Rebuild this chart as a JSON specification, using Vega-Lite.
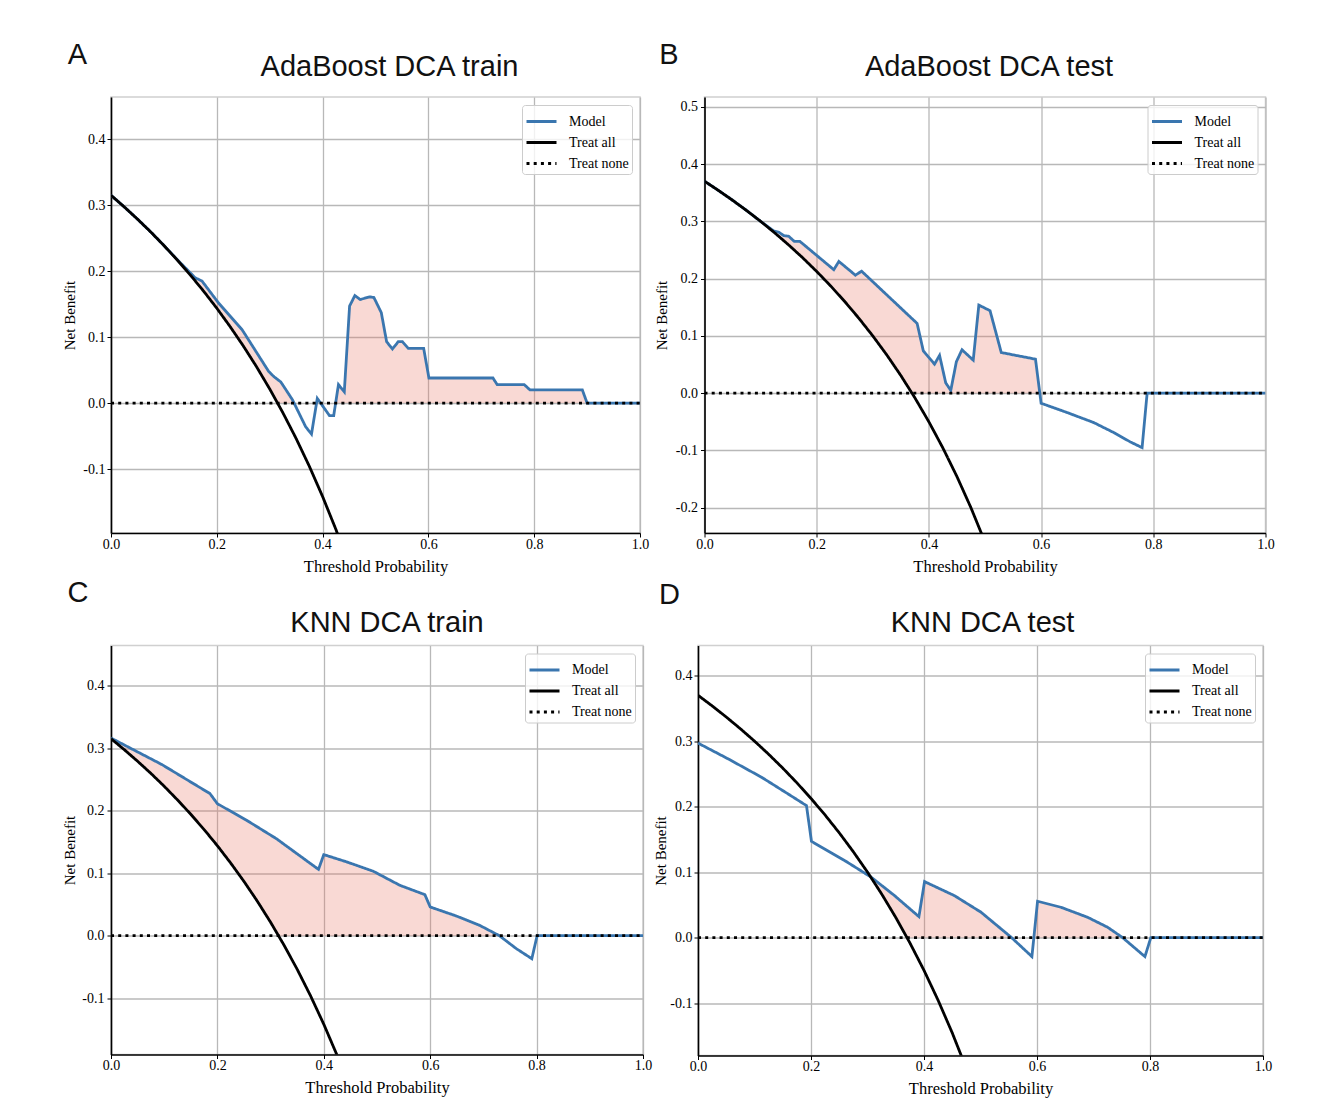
{
  "$schema": "https://vega.github.io/schema/vega-lite/v6.json",
  "background": "white",
  "padding": {"left": 62, "top": 41, "right": 0, "bottom": 0},
  "datasets": {
    "curves": [
      {"panel":"A","series":"Model","x":0,"y":0.315},
      {"panel":"A","series":"Model","x":0.025,"y":0.2974},
      {"panel":"A","series":"Model","x":0.05,"y":0.2789},
      {"panel":"A","series":"Model","x":0.075,"y":0.2595},
      {"panel":"A","series":"Model","x":0.1,"y":0.2389},
      {"panel":"A","series":"Model","x":0.127,"y":0.216},
      {"panel":"A","series":"Model","x":0.159,"y":0.19},
      {"panel":"A","series":"Model","x":0.172,"y":0.185},
      {"panel":"A","series":"Model","x":0.203,"y":0.152},
      {"panel":"A","series":"Model","x":0.248,"y":0.111},
      {"panel":"A","series":"Model","x":0.298,"y":0.048},
      {"panel":"A","series":"Model","x":0.308,"y":0.04},
      {"panel":"A","series":"Model","x":0.321,"y":0.032},
      {"panel":"A","series":"Model","x":0.343,"y":0.005},
      {"panel":"A","series":"Model","x":0.368,"y":-0.036},
      {"panel":"A","series":"Model","x":0.379,"y":-0.047},
      {"panel":"A","series":"Model","x":0.39,"y":0.007},
      {"panel":"A","series":"Model","x":0.413,"y":-0.019},
      {"panel":"A","series":"Model","x":0.421,"y":-0.019},
      {"panel":"A","series":"Model","x":0.43,"y":0.028},
      {"panel":"A","series":"Model","x":0.441,"y":0.017},
      {"panel":"A","series":"Model","x":0.451,"y":0.147},
      {"panel":"A","series":"Model","x":0.461,"y":0.163},
      {"panel":"A","series":"Model","x":0.471,"y":0.157},
      {"panel":"A","series":"Model","x":0.489,"y":0.161},
      {"panel":"A","series":"Model","x":0.497,"y":0.16},
      {"panel":"A","series":"Model","x":0.511,"y":0.137},
      {"panel":"A","series":"Model","x":0.521,"y":0.093},
      {"panel":"A","series":"Model","x":0.532,"y":0.082},
      {"panel":"A","series":"Model","x":0.543,"y":0.093},
      {"panel":"A","series":"Model","x":0.551,"y":0.093},
      {"panel":"A","series":"Model","x":0.562,"y":0.083},
      {"panel":"A","series":"Model","x":0.591,"y":0.083},
      {"panel":"A","series":"Model","x":0.601,"y":0.038},
      {"panel":"A","series":"Model","x":0.722,"y":0.038},
      {"panel":"A","series":"Model","x":0.73,"y":0.028},
      {"panel":"A","series":"Model","x":0.781,"y":0.028},
      {"panel":"A","series":"Model","x":0.792,"y":0.02},
      {"panel":"A","series":"Model","x":0.891,"y":0.02},
      {"panel":"A","series":"Model","x":0.9,"y":0},
      {"panel":"A","series":"Model","x":1,"y":0},
      {"panel":"A","series":"Treat all","x":0,"y":0.315},
      {"panel":"A","series":"Treat all","x":0.025,"y":0.2974},
      {"panel":"A","series":"Treat all","x":0.05,"y":0.2789},
      {"panel":"A","series":"Treat all","x":0.075,"y":0.2595},
      {"panel":"A","series":"Treat all","x":0.1,"y":0.2389},
      {"panel":"A","series":"Treat all","x":0.125,"y":0.2171},
      {"panel":"A","series":"Treat all","x":0.15,"y":0.1941},
      {"panel":"A","series":"Treat all","x":0.175,"y":0.1697},
      {"panel":"A","series":"Treat all","x":0.2,"y":0.1438},
      {"panel":"A","series":"Treat all","x":0.225,"y":0.1161},
      {"panel":"A","series":"Treat all","x":0.25,"y":0.0867},
      {"panel":"A","series":"Treat all","x":0.275,"y":0.0552},
      {"panel":"A","series":"Treat all","x":0.3,"y":0.0214},
      {"panel":"A","series":"Treat all","x":0.325,"y":-0.0148},
      {"panel":"A","series":"Treat all","x":0.35,"y":-0.0538},
      {"panel":"A","series":"Treat all","x":0.375,"y":-0.096},
      {"panel":"A","series":"Treat all","x":0.4,"y":-0.1417},
      {"panel":"A","series":"Treat all","x":0.425,"y":-0.1913},
      {"panel":"A","series":"Treat all","x":0.45,"y":-0.2455},
      {"panel":"A","series":"Treat none","x":0,"y":0},
      {"panel":"A","series":"Treat none","x":1,"y":0},

      {"panel":"B","series":"Model","x":0,"y":0.37},
      {"panel":"B","series":"Model","x":0.025,"y":0.3538},
      {"panel":"B","series":"Model","x":0.05,"y":0.3368},
      {"panel":"B","series":"Model","x":0.075,"y":0.3189},
      {"panel":"B","series":"Model","x":0.1,"y":0.3},
      {"panel":"B","series":"Model","x":0.1236,"y":0.283},
      {"panel":"B","series":"Model","x":0.1325,"y":0.281},
      {"panel":"B","series":"Model","x":0.1414,"y":0.275},
      {"panel":"B","series":"Model","x":0.15,"y":0.274},
      {"panel":"B","series":"Model","x":0.16,"y":0.265},
      {"panel":"B","series":"Model","x":0.17,"y":0.265},
      {"panel":"B","series":"Model","x":0.2305,"y":0.2156},
      {"panel":"B","series":"Model","x":0.2395,"y":0.23},
      {"panel":"B","series":"Model","x":0.269,"y":0.206},
      {"panel":"B","series":"Model","x":0.28,"y":0.213},
      {"panel":"B","series":"Model","x":0.379,"y":0.1218},
      {"panel":"B","series":"Model","x":0.39,"y":0.074},
      {"panel":"B","series":"Model","x":0.41,"y":0.0507},
      {"panel":"B","series":"Model","x":0.419,"y":0.066},
      {"panel":"B","series":"Model","x":0.43,"y":0.018},
      {"panel":"B","series":"Model","x":0.439,"y":0.005},
      {"panel":"B","series":"Model","x":0.449,"y":0.055},
      {"panel":"B","series":"Model","x":0.459,"y":0.0758},
      {"panel":"B","series":"Model","x":0.479,"y":0.0577},
      {"panel":"B","series":"Model","x":0.489,"y":0.1538},
      {"panel":"B","series":"Model","x":0.509,"y":0.144},
      {"panel":"B","series":"Model","x":0.529,"y":0.071},
      {"panel":"B","series":"Model","x":0.59,"y":0.0594},
      {"panel":"B","series":"Model","x":0.6,"y":-0.0175},
      {"panel":"B","series":"Model","x":0.6465,"y":-0.0338},
      {"panel":"B","series":"Model","x":0.694,"y":-0.0513},
      {"panel":"B","series":"Model","x":0.73,"y":-0.069},
      {"panel":"B","series":"Model","x":0.759,"y":-0.085},
      {"panel":"B","series":"Model","x":0.78,"y":-0.095},
      {"panel":"B","series":"Model","x":0.789,"y":0},
      {"panel":"B","series":"Model","x":1,"y":0},
      {"panel":"B","series":"Treat all","x":0,"y":0.37},
      {"panel":"B","series":"Treat all","x":0.025,"y":0.3538},
      {"panel":"B","series":"Treat all","x":0.05,"y":0.3368},
      {"panel":"B","series":"Treat all","x":0.075,"y":0.3189},
      {"panel":"B","series":"Treat all","x":0.1,"y":0.3},
      {"panel":"B","series":"Treat all","x":0.125,"y":0.28},
      {"panel":"B","series":"Treat all","x":0.15,"y":0.2588},
      {"panel":"B","series":"Treat all","x":0.175,"y":0.2364},
      {"panel":"B","series":"Treat all","x":0.2,"y":0.2125},
      {"panel":"B","series":"Treat all","x":0.225,"y":0.1871},
      {"panel":"B","series":"Treat all","x":0.25,"y":0.16},
      {"panel":"B","series":"Treat all","x":0.275,"y":0.131},
      {"panel":"B","series":"Treat all","x":0.3,"y":0.1},
      {"panel":"B","series":"Treat all","x":0.325,"y":0.0667},
      {"panel":"B","series":"Treat all","x":0.35,"y":0.0308},
      {"panel":"B","series":"Treat all","x":0.375,"y":-0.008},
      {"panel":"B","series":"Treat all","x":0.4,"y":-0.05},
      {"panel":"B","series":"Treat all","x":0.425,"y":-0.0957},
      {"panel":"B","series":"Treat all","x":0.45,"y":-0.1455},
      {"panel":"B","series":"Treat all","x":0.475,"y":-0.2},
      {"panel":"B","series":"Treat all","x":0.5,"y":-0.26},
      {"panel":"B","series":"Treat none","x":0,"y":0},
      {"panel":"B","series":"Treat none","x":1,"y":0},

      {"panel":"C","series":"Model","x":0,"y":0.316},
      {"panel":"C","series":"Model","x":0.0957,"y":0.2736},
      {"panel":"C","series":"Model","x":0.186,"y":0.2272},
      {"panel":"C","series":"Model","x":0.2,"y":0.211},
      {"panel":"C","series":"Model","x":0.255,"y":0.1845},
      {"panel":"C","series":"Model","x":0.311,"y":0.155},
      {"panel":"C","series":"Model","x":0.39,"y":0.106},
      {"panel":"C","series":"Model","x":0.4,"y":0.1296},
      {"panel":"C","series":"Model","x":0.443,"y":0.118},
      {"panel":"C","series":"Model","x":0.493,"y":0.103},
      {"panel":"C","series":"Model","x":0.543,"y":0.0805},
      {"panel":"C","series":"Model","x":0.59,"y":0.0656},
      {"panel":"C","series":"Model","x":0.6,"y":0.0459},
      {"panel":"C","series":"Model","x":0.649,"y":0.0315},
      {"panel":"C","series":"Model","x":0.693,"y":0.0165},
      {"panel":"C","series":"Model","x":0.73,"y":0},
      {"panel":"C","series":"Model","x":0.762,"y":-0.0208},
      {"panel":"C","series":"Model","x":0.791,"y":-0.0368},
      {"panel":"C","series":"Model","x":0.801,"y":0},
      {"panel":"C","series":"Model","x":1,"y":0},
      {"panel":"C","series":"Treat all","x":0,"y":0.315},
      {"panel":"C","series":"Treat all","x":0.025,"y":0.2974},
      {"panel":"C","series":"Treat all","x":0.05,"y":0.2789},
      {"panel":"C","series":"Treat all","x":0.075,"y":0.2595},
      {"panel":"C","series":"Treat all","x":0.1,"y":0.2389},
      {"panel":"C","series":"Treat all","x":0.125,"y":0.2171},
      {"panel":"C","series":"Treat all","x":0.15,"y":0.1941},
      {"panel":"C","series":"Treat all","x":0.175,"y":0.1697},
      {"panel":"C","series":"Treat all","x":0.2,"y":0.1438},
      {"panel":"C","series":"Treat all","x":0.225,"y":0.1161},
      {"panel":"C","series":"Treat all","x":0.25,"y":0.0867},
      {"panel":"C","series":"Treat all","x":0.275,"y":0.0552},
      {"panel":"C","series":"Treat all","x":0.3,"y":0.0214},
      {"panel":"C","series":"Treat all","x":0.325,"y":-0.0148},
      {"panel":"C","series":"Treat all","x":0.35,"y":-0.0538},
      {"panel":"C","series":"Treat all","x":0.375,"y":-0.096},
      {"panel":"C","series":"Treat all","x":0.4,"y":-0.1417},
      {"panel":"C","series":"Treat all","x":0.425,"y":-0.1913},
      {"panel":"C","series":"Treat all","x":0.45,"y":-0.2455},
      {"panel":"C","series":"Treat none","x":0,"y":0},
      {"panel":"C","series":"Treat none","x":1,"y":0},

      {"panel":"D","series":"Model","x":0,"y":0.297},
      {"panel":"D","series":"Model","x":0.0536,"y":0.2728},
      {"panel":"D","series":"Model","x":0.1125,"y":0.2448},
      {"panel":"D","series":"Model","x":0.1596,"y":0.2193},
      {"panel":"D","series":"Model","x":0.192,"y":0.2015},
      {"panel":"D","series":"Model","x":0.2008,"y":0.147},
      {"panel":"D","series":"Model","x":0.2597,"y":0.1176},
      {"panel":"D","series":"Model","x":0.3068,"y":0.0921},
      {"panel":"D","series":"Model","x":0.348,"y":0.064},
      {"panel":"D","series":"Model","x":0.391,"y":0.032},
      {"panel":"D","series":"Model","x":0.401,"y":0.0855},
      {"panel":"D","series":"Model","x":0.454,"y":0.064},
      {"panel":"D","series":"Model","x":0.501,"y":0.0387},
      {"panel":"D","series":"Model","x":0.555,"y":0},
      {"panel":"D","series":"Model","x":0.591,"y":-0.029},
      {"panel":"D","series":"Model","x":0.601,"y":0.0555},
      {"panel":"D","series":"Model","x":0.6425,"y":0.0463},
      {"panel":"D","series":"Model","x":0.6896,"y":0.031},
      {"panel":"D","series":"Model","x":0.725,"y":0.0158},
      {"panel":"D","series":"Model","x":0.7515,"y":0},
      {"panel":"D","series":"Model","x":0.791,"y":-0.029},
      {"panel":"D","series":"Model","x":0.8015,"y":0},
      {"panel":"D","series":"Model","x":1,"y":0},
      {"panel":"D","series":"Treat all","x":0,"y":0.37},
      {"panel":"D","series":"Treat all","x":0.025,"y":0.3538},
      {"panel":"D","series":"Treat all","x":0.05,"y":0.3368},
      {"panel":"D","series":"Treat all","x":0.075,"y":0.3189},
      {"panel":"D","series":"Treat all","x":0.1,"y":0.3},
      {"panel":"D","series":"Treat all","x":0.125,"y":0.28},
      {"panel":"D","series":"Treat all","x":0.15,"y":0.2588},
      {"panel":"D","series":"Treat all","x":0.175,"y":0.2364},
      {"panel":"D","series":"Treat all","x":0.2,"y":0.2125},
      {"panel":"D","series":"Treat all","x":0.225,"y":0.1871},
      {"panel":"D","series":"Treat all","x":0.25,"y":0.16},
      {"panel":"D","series":"Treat all","x":0.275,"y":0.131},
      {"panel":"D","series":"Treat all","x":0.3,"y":0.1},
      {"panel":"D","series":"Treat all","x":0.325,"y":0.0667},
      {"panel":"D","series":"Treat all","x":0.35,"y":0.0308},
      {"panel":"D","series":"Treat all","x":0.375,"y":-0.008},
      {"panel":"D","series":"Treat all","x":0.4,"y":-0.05},
      {"panel":"D","series":"Treat all","x":0.425,"y":-0.0957},
      {"panel":"D","series":"Treat all","x":0.45,"y":-0.1455},
      {"panel":"D","series":"Treat all","x":0.475,"y":-0.2},
      {"panel":"D","series":"Treat all","x":0.5,"y":-0.26},
      {"panel":"D","series":"Treat none","x":0,"y":0},
      {"panel":"D","series":"Treat none","x":1,"y":0}
    ],
    "fill": [
      {"panel":"A","x":0.127,"y":0.216,"bottom":0.2153},
      {"panel":"A","x":0.159,"y":0.19,"bottom":0.1855},
      {"panel":"A","x":0.172,"y":0.185,"bottom":0.1727},
      {"panel":"A","x":0.203,"y":0.152,"bottom":0.1405},
      {"panel":"A","x":0.248,"y":0.111,"bottom":0.0891},
      {"panel":"A","x":0.298,"y":0.048,"bottom":0.0242},
      {"panel":"A","x":0.308,"y":0.04,"bottom":0.0101},
      {"panel":"A","x":0.315,"y":0.0355,"bottom":0},
      {"panel":"A","x":0.321,"y":0.032,"bottom":0},
      {"panel":"A","x":0.343,"y":0.005,"bottom":0},
      {"panel":"A","x":0.346,"y":0,"bottom":0},
      {"panel":"A","x":0.388,"y":0,"bottom":0},
      {"panel":"A","x":0.39,"y":0.007,"bottom":0},
      {"panel":"A","x":0.392,"y":0,"bottom":0},
      {"panel":"A","x":0.4246,"y":0,"bottom":0},
      {"panel":"A","x":0.43,"y":0.028,"bottom":0},
      {"panel":"A","x":0.441,"y":0.017,"bottom":0},
      {"panel":"A","x":0.451,"y":0.147,"bottom":0},
      {"panel":"A","x":0.461,"y":0.163,"bottom":0},
      {"panel":"A","x":0.471,"y":0.157,"bottom":0},
      {"panel":"A","x":0.489,"y":0.161,"bottom":0},
      {"panel":"A","x":0.497,"y":0.16,"bottom":0},
      {"panel":"A","x":0.511,"y":0.137,"bottom":0},
      {"panel":"A","x":0.521,"y":0.093,"bottom":0},
      {"panel":"A","x":0.532,"y":0.082,"bottom":0},
      {"panel":"A","x":0.543,"y":0.093,"bottom":0},
      {"panel":"A","x":0.551,"y":0.093,"bottom":0},
      {"panel":"A","x":0.562,"y":0.083,"bottom":0},
      {"panel":"A","x":0.591,"y":0.083,"bottom":0},
      {"panel":"A","x":0.601,"y":0.038,"bottom":0},
      {"panel":"A","x":0.722,"y":0.038,"bottom":0},
      {"panel":"A","x":0.73,"y":0.028,"bottom":0},
      {"panel":"A","x":0.781,"y":0.028,"bottom":0},
      {"panel":"A","x":0.792,"y":0.02,"bottom":0},
      {"panel":"A","x":0.891,"y":0.02,"bottom":0},
      {"panel":"A","x":0.9,"y":0,"bottom":0},

      {"panel":"B","x":0.1236,"y":0.283,"bottom":0.281},
      {"panel":"B","x":0.1325,"y":0.281,"bottom":0.2738},
      {"panel":"B","x":0.1414,"y":0.275,"bottom":0.2662},
      {"panel":"B","x":0.15,"y":0.274,"bottom":0.2588},
      {"panel":"B","x":0.16,"y":0.265,"bottom":0.25},
      {"panel":"B","x":0.17,"y":0.265,"bottom":0.241},
      {"panel":"B","x":0.2,"y":0.2405,"bottom":0.2125},
      {"panel":"B","x":0.2305,"y":0.2156,"bottom":0.1813},
      {"panel":"B","x":0.2395,"y":0.23,"bottom":0.1716},
      {"panel":"B","x":0.269,"y":0.206,"bottom":0.1382},
      {"panel":"B","x":0.28,"y":0.213,"bottom":0.125},
      {"panel":"B","x":0.3,"y":0.1946,"bottom":0.1},
      {"panel":"B","x":0.325,"y":0.1716,"bottom":0.0667},
      {"panel":"B","x":0.35,"y":0.1486,"bottom":0.0308},
      {"panel":"B","x":0.37,"y":0.13,"bottom":0},
      {"panel":"B","x":0.379,"y":0.1218,"bottom":0},
      {"panel":"B","x":0.39,"y":0.074,"bottom":0},
      {"panel":"B","x":0.41,"y":0.0507,"bottom":0},
      {"panel":"B","x":0.419,"y":0.066,"bottom":0},
      {"panel":"B","x":0.43,"y":0.018,"bottom":0},
      {"panel":"B","x":0.439,"y":0.005,"bottom":0},
      {"panel":"B","x":0.449,"y":0.055,"bottom":0},
      {"panel":"B","x":0.459,"y":0.0758,"bottom":0},
      {"panel":"B","x":0.479,"y":0.0577,"bottom":0},
      {"panel":"B","x":0.489,"y":0.1538,"bottom":0},
      {"panel":"B","x":0.509,"y":0.144,"bottom":0},
      {"panel":"B","x":0.529,"y":0.071,"bottom":0},
      {"panel":"B","x":0.59,"y":0.0594,"bottom":0},
      {"panel":"B","x":0.5977,"y":0,"bottom":0},

      {"panel":"C","x":0,"y":0.316,"bottom":0.315},
      {"panel":"C","x":0.025,"y":0.305,"bottom":0.2974},
      {"panel":"C","x":0.05,"y":0.2938,"bottom":0.2789},
      {"panel":"C","x":0.075,"y":0.2828,"bottom":0.2595},
      {"panel":"C","x":0.0957,"y":0.2736,"bottom":0.2425},
      {"panel":"C","x":0.125,"y":0.2585,"bottom":0.2171},
      {"panel":"C","x":0.15,"y":0.2457,"bottom":0.1941},
      {"panel":"C","x":0.175,"y":0.2329,"bottom":0.1697},
      {"panel":"C","x":0.186,"y":0.2272,"bottom":0.1585},
      {"panel":"C","x":0.2,"y":0.211,"bottom":0.1438},
      {"panel":"C","x":0.225,"y":0.199,"bottom":0.1161},
      {"panel":"C","x":0.255,"y":0.1845,"bottom":0.0805},
      {"panel":"C","x":0.275,"y":0.174,"bottom":0.0552},
      {"panel":"C","x":0.3,"y":0.1608,"bottom":0.0214},
      {"panel":"C","x":0.311,"y":0.155,"bottom":0.0058},
      {"panel":"C","x":0.315,"y":0.1529,"bottom":0},
      {"panel":"C","x":0.39,"y":0.106,"bottom":0},
      {"panel":"C","x":0.4,"y":0.1296,"bottom":0},
      {"panel":"C","x":0.443,"y":0.118,"bottom":0},
      {"panel":"C","x":0.493,"y":0.103,"bottom":0},
      {"panel":"C","x":0.543,"y":0.0805,"bottom":0},
      {"panel":"C","x":0.59,"y":0.0656,"bottom":0},
      {"panel":"C","x":0.6,"y":0.0459,"bottom":0},
      {"panel":"C","x":0.649,"y":0.0315,"bottom":0},
      {"panel":"C","x":0.693,"y":0.0165,"bottom":0},
      {"panel":"C","x":0.73,"y":0,"bottom":0},

      {"panel":"D","x":0.3068,"y":0.0921,"bottom":0.0921},
      {"panel":"D","x":0.325,"y":0.0797,"bottom":0.0667},
      {"panel":"D","x":0.348,"y":0.064,"bottom":0.0337},
      {"panel":"D","x":0.37,"y":0.0476,"bottom":0},
      {"panel":"D","x":0.391,"y":0.032,"bottom":0},
      {"panel":"D","x":0.401,"y":0.0855,"bottom":0},
      {"panel":"D","x":0.454,"y":0.064,"bottom":0},
      {"panel":"D","x":0.501,"y":0.0387,"bottom":0},
      {"panel":"D","x":0.555,"y":0,"bottom":0},
      {"panel":"D","x":0.5944,"y":0,"bottom":0},
      {"panel":"D","x":0.601,"y":0.0555,"bottom":0},
      {"panel":"D","x":0.6425,"y":0.0463,"bottom":0},
      {"panel":"D","x":0.6896,"y":0.031,"bottom":0},
      {"panel":"D","x":0.725,"y":0.0158,"bottom":0},
      {"panel":"D","x":0.7515,"y":0,"bottom":0}
    ]
  },
  "resolve": {"scale": {"x": "independent", "y": "independent", "color": "independent", "strokeDash": "independent"}, "legend": {"color": "independent", "strokeDash": "independent"}, "axis": {"x": "independent", "y": "independent"}},
  "spacing": 2.5,
  "vconcat": [
    {
      "spacing": 3.5,
      "resolve": {"scale": {"x": "independent", "y": "independent", "color": "independent", "strokeDash": "independent"}, "legend": {"color": "independent", "strokeDash": "independent"}},
      "hconcat": [
        {
          "title": {"text": "A", "anchor": "start", "fontSize": 29, "baseline": "alphabetic", "offset": -40.8, "dx": 5.6},
          "resolve": {"scale": {"color": "independent", "strokeDash": "independent"}, "legend": {"color": "independent", "strokeDash": "independent"}},
          "vconcat": [
            {
              "width": 529, "height": 436,
              "title": {"text": "AdaBoost DCA train", "dx": 14, "offset": -8.4, "baseline": "alphabetic"},
              "encoding": {
                "x": {"field": "x", "type": "quantitative", "scale": {"domain": [0, 1], "nice": false}, "axis": {"values": [0, 0.2, 0.4, 0.6, 0.8, 1], "title": "Threshold Probability"}},
                "y": {"field": "y", "type": "quantitative", "scale": {"domain": [-0.197, 0.464], "nice": false, "zero": false}, "axis": {"values": [-0.1, 0, 0.1, 0.2, 0.3, 0.4], "title": "Net Benefit", "titlePadding": 5, "labelPadding": 2}}
              },
              "layer": [
                {"data": {"name": "fill"}, "transform": [{"filter": "datum.panel == 'A'"}], "mark": {"type": "area", "color": "#e8735f", "opacity": 0.27}, "encoding": {"y2": {"field": "bottom"}}},
                {"data": {"name": "curves"}, "transform": [{"filter": "datum.panel == 'A'"}], "mark": {"type": "line", "clip": true, "strokeWidth": 2.8},
                 "encoding": {
                   "color": {"field": "series", "type": "nominal", "scale": {"domain": ["Model", "Treat all", "Treat none"], "range": ["#3a76af", "#000000", "#000000"]}, "legend": {"title": null}},
                   "strokeDash": {"field": "series", "type": "nominal", "scale": {"domain": ["Model", "Treat all", "Treat none"], "range": [[1, 0], [1, 0], [3, 4.2]]}, "legend": {"title": null}}
                 }}
              ]
            }
          ]
        },
        {
          "title": {"text": "B", "anchor": "start", "fontSize": 29, "baseline": "alphabetic", "offset": -40.8, "dx": 5.7},
          "resolve": {"scale": {"color": "independent", "strokeDash": "independent"}, "legend": {"color": "independent", "strokeDash": "independent"}},
          "vconcat": [
            {
              "width": 561, "height": 436,
              "title": {"text": "AdaBoost DCA test", "dx": 4, "offset": -8.4, "baseline": "alphabetic"},
              "encoding": {
                "x": {"field": "x", "type": "quantitative", "scale": {"domain": [0, 1], "nice": false}, "axis": {"values": [0, 0.2, 0.4, 0.6, 0.8, 1], "title": "Threshold Probability"}},
                "y": {"field": "y", "type": "quantitative", "scale": {"domain": [-0.244, 0.517], "nice": false, "zero": false}, "axis": {"values": [-0.2, -0.1, 0, 0.1, 0.2, 0.3, 0.4, 0.5], "title": "Net Benefit", "titlePadding": 6, "labelPadding": 3}}
              },
              "layer": [
                {"data": {"name": "fill"}, "transform": [{"filter": "datum.panel == 'B'"}], "mark": {"type": "area", "color": "#e8735f", "opacity": 0.27}, "encoding": {"y2": {"field": "bottom"}}},
                {"data": {"name": "curves"}, "transform": [{"filter": "datum.panel == 'B'"}], "mark": {"type": "line", "clip": true, "strokeWidth": 2.8},
                 "encoding": {
                   "color": {"field": "series", "type": "nominal", "scale": {"domain": ["Model", "Treat all", "Treat none"], "range": ["#3a76af", "#000000", "#000000"]}, "legend": {"title": null}},
                   "strokeDash": {"field": "series", "type": "nominal", "scale": {"domain": ["Model", "Treat all", "Treat none"], "range": [[1, 0], [1, 0], [3, 4.2]]}, "legend": {"title": null}}
                 }}
              ]
            }
          ]
        }
      ]
    },
    {
      "spacing": 0,
      "resolve": {"scale": {"x": "independent", "y": "independent", "color": "independent", "strokeDash": "independent"}, "legend": {"color": "independent", "strokeDash": "independent"}},
      "hconcat": [
        {
          "title": {"text": "C", "anchor": "start", "fontSize": 29, "baseline": "alphabetic", "offset": -22.8, "dx": 5.4},
          "resolve": {"scale": {"color": "independent", "strokeDash": "independent"}, "legend": {"color": "independent", "strokeDash": "independent"}},
          "vconcat": [
            {
              "width": 532, "height": 409,
              "title": {"text": "KNN DCA train", "dx": 10, "offset": -15.7, "baseline": "alphabetic"},
              "encoding": {
                "x": {"field": "x", "type": "quantitative", "scale": {"domain": [0, 1], "nice": false}, "axis": {"values": [0, 0.2, 0.4, 0.6, 0.8, 1], "title": "Threshold Probability"}},
                "y": {"field": "y", "type": "quantitative", "scale": {"domain": [-0.19, 0.464], "nice": false, "zero": false}, "axis": {"values": [-0.1, 0, 0.1, 0.2, 0.3, 0.4], "title": "Net Benefit", "titlePadding": 4, "labelPadding": 3}}
              },
              "layer": [
                {"data": {"name": "fill"}, "transform": [{"filter": "datum.panel == 'C'"}], "mark": {"type": "area", "color": "#e8735f", "opacity": 0.27}, "encoding": {"y2": {"field": "bottom"}}},
                {"data": {"name": "curves"}, "transform": [{"filter": "datum.panel == 'C'"}], "mark": {"type": "line", "clip": true, "strokeWidth": 2.8},
                 "encoding": {
                   "color": {"field": "series", "type": "nominal", "scale": {"domain": ["Model", "Treat all", "Treat none"], "range": ["#3a76af", "#000000", "#000000"]}, "legend": {"title": null}},
                   "strokeDash": {"field": "series", "type": "nominal", "scale": {"domain": ["Model", "Treat all", "Treat none"], "range": [[1, 0], [1, 0], [3, 4.2]]}, "legend": {"title": null}}
                 }}
              ]
            }
          ]
        },
        {
          "title": {"text": "D", "anchor": "start", "fontSize": 29, "baseline": "alphabetic", "offset": -24.8, "dx": 6},
          "resolve": {"scale": {"color": "independent", "strokeDash": "independent"}, "legend": {"color": "independent", "strokeDash": "independent"}},
          "vconcat": [
            {
              "width": 565, "height": 410,
              "title": {"text": "KNN DCA test", "dx": 2, "offset": -15.3, "baseline": "alphabetic"},
              "encoding": {
                "x": {"field": "x", "type": "quantitative", "scale": {"domain": [0, 1], "nice": false}, "axis": {"values": [0, 0.2, 0.4, 0.6, 0.8, 1], "title": "Threshold Probability"}},
                "y": {"field": "y", "type": "quantitative", "scale": {"domain": [-0.18, 0.446], "nice": false, "zero": false}, "axis": {"values": [-0.1, 0, 0.1, 0.2, 0.3, 0.4], "title": "Net Benefit", "titlePadding": 1, "labelPadding": 2}}
              },
              "layer": [
                {"data": {"name": "fill"}, "transform": [{"filter": "datum.panel == 'D'"}], "mark": {"type": "area", "color": "#e8735f", "opacity": 0.27}, "encoding": {"y2": {"field": "bottom"}}},
                {"data": {"name": "curves"}, "transform": [{"filter": "datum.panel == 'D'"}], "mark": {"type": "line", "clip": true, "strokeWidth": 2.8},
                 "encoding": {
                   "color": {"field": "series", "type": "nominal", "scale": {"domain": ["Model", "Treat all", "Treat none"], "range": ["#3a76af", "#000000", "#000000"]}, "legend": {"title": null}},
                   "strokeDash": {"field": "series", "type": "nominal", "scale": {"domain": ["Model", "Treat all", "Treat none"], "range": [[1, 0], [1, 0], [3, 4.2]]}, "legend": {"title": null}}
                 }}
              ]
            }
          ]
        }
      ]
    }
  ],
  "config": {
    "font": "Liberation Serif",
    "view": {"stroke": "#d0d0d0", "strokeWidth": 1.5},
    "title": {"font": "Liberation Sans", "fontSize": 29, "fontWeight": "normal", "color": "#111111"},
    "axis": {
      "labelFont": "Liberation Serif", "labelFontSize": 14, "labelColor": "#000000",
      "titleFont": "Liberation Serif", "titleFontWeight": "normal", "titleColor": "#000000",
      "domainColor": "#000000", "domainWidth": 1.6,
      "tickColor": "#000000", "tickSize": 4, "tickWidth": 1,
      "gridColor": "#b8b8b8", "gridWidth": 1.3, "gridOpacity": 1,
      "labelExpr": "datum.value < 0 ? '-' + format(-datum.value, '.1f') : format(datum.value, '.1f')"
    },
    "axisX": {"titleFontSize": 16.5, "labelPadding": 0, "titlePadding": 7, "labelFlush": false},
    "axisY": {"titleFontSize": 15},
    "legend": {
      "orient": "top-right", "offset": 8, "padding": 3,
      "strokeColor": "#cccccc", "fillColor": "rgba(255,255,255,0.8)", "cornerRadius": 3,
      "labelFont": "Liberation Serif", "labelFontSize": 14, "labelColor": "#000000",
      "symbolType": "M-1,0H1.5", "symbolSize": 576, "symbolStrokeWidth": 2.8,
      "labelOffset": 17, "rowPadding": 0
    }
  }
}
